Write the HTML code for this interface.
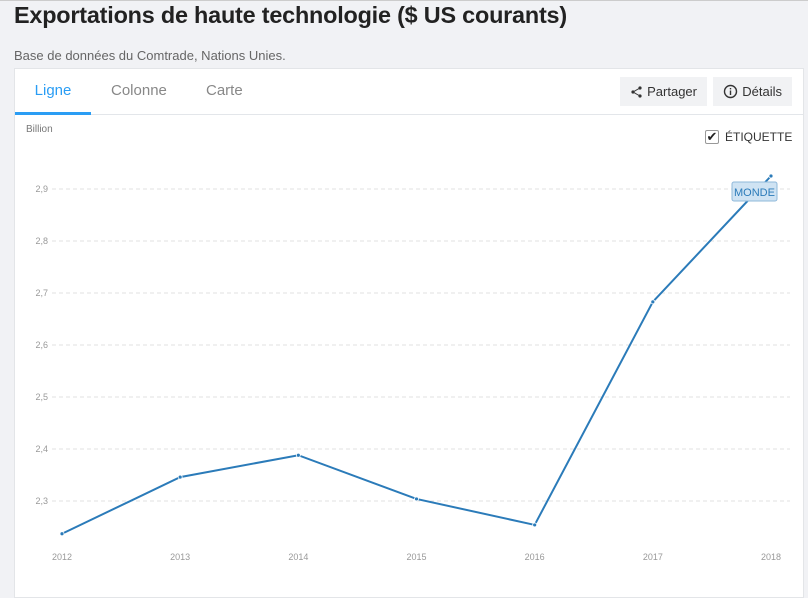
<!DOCTYPE html>
<html><head><meta charset="utf-8"><style>
body{margin:0;width:808px;height:594px;background:#f1f2f5;font-family:"Liberation Sans",sans-serif;position:relative;overflow:hidden}
.abs{position:absolute}
</style></head><body>
<div class="abs" style="left:0;top:0;width:808px;height:1px;background:#ccc"></div>
<div class="abs" style="left:14px;top:2px;font-size:23.4px;font-weight:bold;color:#222;letter-spacing:-0.2px">Exportations de haute technologie ($ US courants)</div>
<div class="abs" style="left:14px;top:48px;font-size:13px;color:#666">Base de données du Comtrade, Nations Unies.</div>
<div class="abs" style="left:14px;top:68px;width:790px;height:530px;background:#fff;border:1px solid #e3e5e8;box-sizing:border-box"></div>
<div class="abs" style="left:15px;top:114px;width:788px;height:1px;background:#e3e6ea"></div>
<div class="abs" style="left:15px;top:81px;width:76px;height:34px;text-align:center;font-size:15px;color:#2a9df4;line-height:20px">Ligne</div>
<div class="abs" style="left:15px;top:112px;width:76px;height:3px;background:#2a9df4"></div>
<div class="abs" style="left:111px;top:81px;font-size:15px;color:#888;line-height:20px">Colonne</div>
<div class="abs" style="left:206px;top:81px;font-size:15px;color:#888;line-height:20px">Carte</div>
<div class="abs" style="left:620px;top:77px;width:87px;height:29px;background:#f1f2f4;font-size:13px;color:#333;line-height:29px;text-align:right;box-sizing:border-box;padding-right:10px">Partager
<svg class="abs" style="left:10px;top:8px" width="14" height="14" viewBox="0 0 14 14"><circle cx="10" cy="3" r="1.6" fill="#333"/><circle cx="3" cy="7" r="1.6" fill="#333"/><circle cx="10" cy="11" r="1.6" fill="#333"/><path d="M10 3L3 7L10 11" stroke="#333" fill="none"/></svg></div>
<div class="abs" style="left:713px;top:77px;width:79px;height:29px;background:#f1f2f4;font-size:13px;color:#333;line-height:29px;text-align:right;box-sizing:border-box;padding-right:10px">Détails
<svg class="abs" style="left:10px;top:7px" width="15" height="15" viewBox="0 0 15 15"><circle cx="7.5" cy="7.5" r="6" stroke="#333" stroke-width="1.4" fill="none"/><rect x="6.8" y="6.5" width="1.4" height="4.5" fill="#333"/><rect x="6.8" y="4" width="1.4" height="1.4" fill="#333"/></svg></div>
<div class="abs" style="left:26px;top:124px;font-size:10px;color:#777">Billion</div>
<div class="abs" style="left:705px;top:130px;width:14px;height:14px;border:1px solid #999;border-radius:2px;box-sizing:border-box;font-size:13px;line-height:12px;text-align:center;color:#222">✔</div>
<div class="abs" style="left:725px;top:130px;font-size:12px;color:#333">ÉTIQUETTE</div>
<svg class="abs" style="left:0;top:0" width="808" height="594" id="chart"></svg>
<script>
const years=["2012","2013","2014","2015","2016","2017","2018"];
const values=[2.237,2.346,2.388,2.304,2.254,2.683,2.925];
const yTicks=[2.3,2.4,2.5,2.6,2.7,2.8,2.9];
const seriesName="MONDE";
const NS="http://www.w3.org/2000/svg";
const svg=document.getElementById('chart');
const x=i=>62+i*(771-62)/(years.length-1);
const y=v=>501-(v-2.3)*520;
function mk(t,a){const e=document.createElementNS(NS,t);for(const k in a)e.setAttribute(k,a[k]);svg.appendChild(e);return e;}
yTicks.forEach(t=>{
 const g=mk('line',{x1:52,x2:790,y1:y(t),y2:y(t),stroke:'#e2e2e2','stroke-dasharray':'4,3'});
 
 
 const l=mk('text',{x:48,y:y(t)+3,'text-anchor':'end','font-size':9,fill:'#999','font-family':'Liberation Sans'});
 l.textContent=t.toFixed(1).replace('.',',');
 
 
});
years.forEach((yr,i)=>{
 const l=mk('text',{x:x(i),y:560,'text-anchor':'middle','font-size':9,fill:'#999','font-family':'Liberation Sans'});
 l.textContent=yr;
 
 
});
const p=mk('polyline',{points:values.map((v,i)=>x(i)+','+y(v)).join(' '),fill:'none',stroke:'#2b7bb9','stroke-width':2});


values.forEach((v,i)=>{
 const c=mk('circle',{cx:x(i),cy:y(v),r:2,fill:'#2b7bb9',stroke:'#fff','stroke-width':0.8});
 
 
});
const li=values.length-1;
const r=mk('rect',{x:x(li)-39,y:y(values[li])+6,width:45,height:19,rx:2,fill:'#cfe3f3',stroke:'#8fb8da'});


const t=mk('text',{x:x(li)-16.5,y:y(values[li])+20,'text-anchor':'middle','font-size':11,fill:'#2b7bb9','font-family':'Liberation Sans'});
t.textContent=seriesName;


</script>
</body></html>
